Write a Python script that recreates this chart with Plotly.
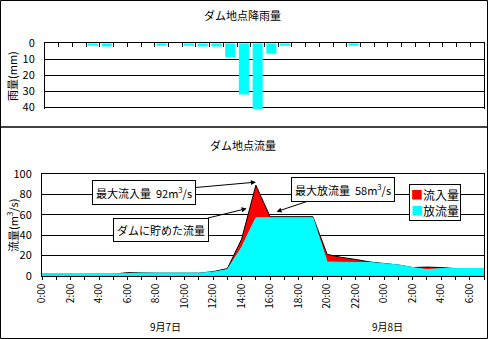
import plotly.graph_objects as go

# ---------------- data ----------------
hours = list(range(32))  # 9/7 0:00 ... 9/8 7:00
rain_mm = [0, 0, 0, 1.5, 2, 0, 0, 0, 1.5, 0, 1.5, 2, 2, 8.5, 32, 41,
           6.5, 1.5, 0, 0, 0, 0, 1.5, 0, 0, 0, 0, 0, 0, 0, 0, 0]
inflow = [1.5, 1.5, 1.5, 1.5, 1.5, 1.5, 3, 2.5, 2.5, 2.5, 2.5, 2.5, 4, 7, 36, 89,
          58, 58, 58, 58, 21, 18, 16, 13.5, 12, 10.5, 8, 8.5, 8, 7, 7, 7]
outflow = [1.5, 1.5, 1.5, 1.5, 1.5, 1.5, 2, 2.5, 2.5, 2.5, 2.5, 2.5, 3.5, 6, 28, 57,
           57, 57, 57, 57, 13.5, 13, 13, 13, 12, 10.5, 8, 6, 7, 7, 7, 7]
label_hours = list(range(0, 32, 2))
label_text = ["0:00", "2:00", "4:00", "6:00", "8:00", "10:00", "12:00", "14:00",
              "16:00", "18:00", "20:00", "22:00", "0:00", "2:00", "4:00", "6:00"]
rain_ticks = [0, 10, 20, 30, 40]
flow_ticks = [0, 20, 40, 60, 80, 100]
peak_inflow_label = 92
peak_outflow_label = 58
series_names = ["流入量", "放流量"]
dates = ["9月7日", "9月8日"]

W, H = 488, 339
def px(x): return x / W
def py(y): return 1 - y / H

RED = "#FF0000"
CYAN = "#00FFFF"
FONT = "Noto Sans CJK JP, Liberation Sans, sans-serif"

fig = go.Figure()
fig.add_trace(go.Bar(x=hours, y=rain_mm, marker=dict(color=CYAN, line=dict(width=0)),
                     xaxis="x", yaxis="y", showlegend=False))
fig.add_trace(go.Scatter(x=hours, y=inflow, mode="lines", fill="tozeroy", fillcolor=RED,
                         line=dict(color="black", width=1), name=series_names[0],
                         xaxis="x2", yaxis="y2", showlegend=False))
fig.add_trace(go.Scatter(x=hours, y=outflow, mode="lines", fill="tozeroy", fillcolor=CYAN,
                         line=dict(color=CYAN, width=1), name=series_names[1],
                         xaxis="x2", yaxis="y2", showlegend=False))

fig.update_layout(
    width=W, height=H, margin=dict(l=0, r=0, t=0, b=0, pad=0, autoexpand=False),
    paper_bgcolor="white", plot_bgcolor="white",
    font=dict(family=FONT, size=11, color="black"),
    bargap=0.27, showlegend=False,
    xaxis=dict(domain=[px(45), px(484)], range=[-0.5, 31.5], anchor="y", side="top",
               showline=True, linecolor="black", linewidth=1, mirror=False,
               tickmode="array", tickvals=[i + 0.5 for i in range(31)],
               ticks="inside", ticklen=4, tickcolor="black", showticklabels=False,
               showgrid=False, zeroline=False, automargin=False),
    yaxis=dict(domain=[py(108.9), py(43.3)], range=[41, 0], anchor="x",
               tickmode="array", tickvals=rain_ticks, showgrid=True, gridcolor="black",
               gridwidth=1, showline=True, mirror=True, linecolor="black", linewidth=1,
               ticks="", zeroline=False, tickfont=dict(size=11), ticklabelstandoff=7,
               automargin=False),
    xaxis2=dict(domain=[px(42), px(484)], range=[0, 31], anchor="y2",
                tickmode="array", tickvals=label_hours, ticktext=label_text, tickangle=-90,
                ticks="outside", ticklen=3, tickcolor="black",
                minor=dict(tickmode="linear", tick0=0, dtick=1, ticks="outside", ticklen=3,
                           tickcolor="black", showgrid=False),
                showline=True, mirror=True, linecolor="black", linewidth=1,
                showgrid=False, zeroline=False, tickfont=dict(size=10), automargin=False),
    yaxis2=dict(domain=[py(275.7), py(174)], range=[0, 100], anchor="x2",
                tickmode="array", tickvals=flow_ticks, showgrid=True, gridcolor="black",
                gridwidth=1, showline=True, mirror=True, linecolor="black", linewidth=1,
                ticks="", zeroline=False, tickfont=dict(size=11), ticklabelstandoff=7,
                automargin=False),
)

plain = dict(xref="paper", yref="paper", xanchor="center", yanchor="middle", showarrow=False)
ann = []
ann.append(dict(text="ダム地点降雨量", x=px(242), y=py(15), font=dict(size=11), **plain))
ann.append(dict(text="ダム地点流量", x=px(243), y=py(145), font=dict(size=11), **plain))
ann.append(dict(text="雨量(mm)", x=px(12), y=py(76), textangle=-90, font=dict(size=11), **plain))
ann.append(dict(text="流量(m<sup>3</sup>/s)", x=px(12), y=py(226), textangle=-90,
                font=dict(size=11), **plain))
ann.append(dict(text=dates[0], x=px(165), y=py(326), font=dict(size=10), **plain))
ann.append(dict(text=dates[1], x=px(387), y=py(326), font=dict(size=10), **plain))

peak_h = hours[inflow.index(max(inflow))]
box = dict(showarrow=True, arrowhead=2, arrowsize=1, arrowwidth=1, arrowcolor="black",
           bordercolor="black", borderwidth=1, borderpad=3, bgcolor="white",
           xref="x2", yref="y2", font=dict(size=11))
ann.append(dict(text=f"最大流入量  {peak_inflow_label}m<sup>3</sup>/s", x=peak_h, y=peak_inflow_label,
                ax=-112, ay=10, **box))
ann.append(dict(text="ダムに貯めた流量", x=14.35, y=66, ax=-86, ay=21, **box))
ann.append(dict(text=f"最大放流量  {peak_outflow_label}m<sup>3</sup>/s", x=16.45, y=63,
                ax=66, ay=-22, **box))
ann.append(dict(text=f"<span style='color:{RED}'>■</span>{series_names[0]}<br>"
                     f"<span style='color:{CYAN}'>■</span>{series_names[1]}",
                x=px(409), y=py(184), xref="paper", yref="paper", xanchor="left", yanchor="top",
                align="left", showarrow=False, bordercolor="black", borderwidth=1, borderpad=1,
                bgcolor="white", font=dict(size=12)))
fig.update_layout(annotations=ann)

fig.update_layout(shapes=[
    dict(type="rect", xref="paper", yref="paper", x0=px(0.5), x1=px(487.5),
         y0=py(338.5), y1=py(0.5), line=dict(color="black", width=1)),
    dict(type="line", xref="paper", yref="paper", x0=0, x1=1, y0=py(127), y1=py(127),
         line=dict(color="black", width=1.5)),
])

fig.write_html("out.html")
